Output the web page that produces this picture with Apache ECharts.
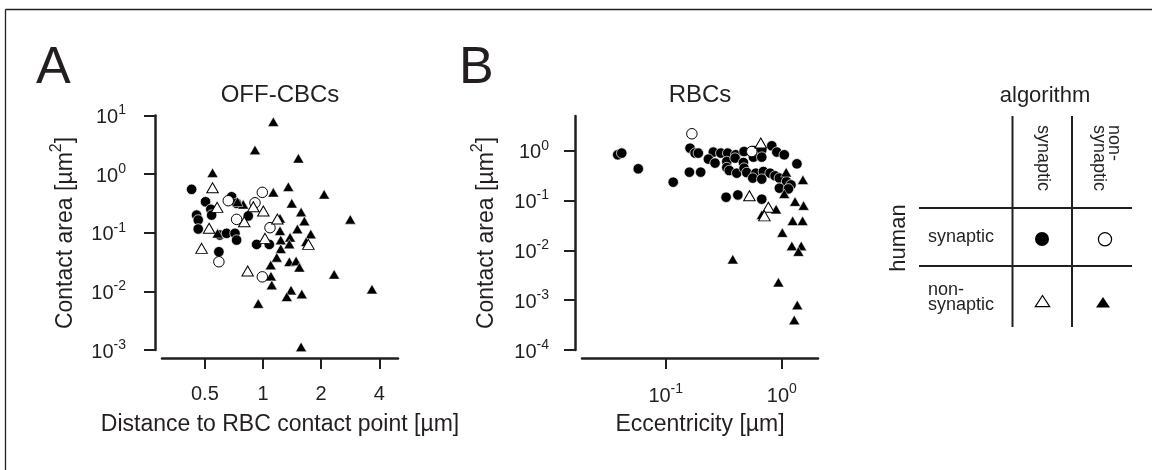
<!DOCTYPE html>
<html>
<head>
<meta charset="utf-8">
<script src="https://cdn.jsdelivr.net/npm/echarts@6/dist/echarts.min.js"></script>
<style>html,body{margin:0;padding:0;background:#fff}#c{width:1152px;height:470px}</style>
</head>
<body>
<div id="c"></div>
<script>
// ---------- Panel A: OFF-CBCs (distance [µm], contact area [µm²]) ----------
const aSynSyn = [[0.427,0.55],[0.504,0.338],[0.688,0.411],[0.73,0.318],[0.537,0.251],[0.453,0.2],[0.542,0.2],[0.462,0.165],[0.839,0.193],[0.462,0.116],[0.598,0.0914],[0.648,0.0977],[0.716,0.0977],[0.73,0.075],[0.927,0.0633],[1.078,0.0633],[0.591,0.0474]];
const aSynNon = [[0.992,0.489],[0.661,0.352],[0.909,0.325],[0.73,0.169],[1.087,0.122],[0.591,0.032],[0.992,0.0177]];
const aNonSyn = [[0.548,0.586],[0.579,0.271],[0.891,0.278],[1.004,0.235],[0.8,0.154],[1.187,0.171],[0.526,0.119],[1.024,0.0802],[1.718,0.0634],[0.481,0.0542],[0.833,0.0222]];
const aNonNon = [[1.131,7.84],[0.909,2.58],[1.525,1.86],[0.548,1.06],[1.131,0.489],[1.353,0.61],[2.073,0.452],[1.409,0.318],[0.79,0.305],[0.739,0.338],[1.225,0.176],[1.575,0.225],[1.638,0.158],[2.83,0.169],[1.225,0.108],[1.507,0.116],[1.768,0.095],[0.582,0.0977],[1.024,0.0802],[1.236,0.075],[1.381,0.0835],[1.369,0.0641],[1.672,0.0702],[1.236,0.0533],[1.178,0.038],[1.369,0.032],[1.484,0.0329],[1.096,0.0281],[1.543,0.0257],[1.1,0.0182],[1.11,0.0128],[1.397,0.0105],[1.328,0.0081],[1.588,0.009],[0.945,0.0062],[2.336,0.0195],[3.666,0.0109],[1.575,0.00113]];
// ---------- Panel B: RBCs (eccentricity [µm], contact area [µm²]) ----------
const bSynSyn = [[0.0386,0.831],[0.0418,0.899],[0.058,0.435],[0.116,0.235],[0.16,0.373],[0.2,0.373],[0.331,0.117],[0.418,0.13],[0.672,0.107],[1.35,0.548],[0.162,1.13],[0.179,0.899],[0.191,0.899],[0.257,0.942],[0.298,0.899],[0.342,0.899],[0.401,0.831],[0.473,0.968],[0.569,1.01],[0.672,1.05],[0.82,1.26],[0.906,0.942],[1.05,0.831],[0.233,0.681],[0.266,0.566],[0.336,0.61],[0.396,0.713],[0.467,0.582],[0.569,0.747],[0.672,0.747],[0.336,0.461],[0.353,0.402],[0.409,0.356],[0.473,0.449],[0.499,0.366],[0.597,0.356],[0.694,0.384],[0.793,0.356],[0.875,0.314],[0.953,0.283],[1.1,0.241],[0.562,0.283],[0.672,0.27],[1.2,0.207],[0.953,0.178],[1.14,0.172]];
const bSynNon = [[0.168,2.2],[0.551,0.968]];
const bNonSyn = [[0.659,1.43],[0.526,0.125],[0.766,0.0738],[0.708,0.0494]];
const bNonNon = [[1.09,0.373],[1.52,0.261],[1.05,0.137],[0.893,0.0673],[0.672,0.0517],[1.3,0.0957],[1.54,0.0796],[1.24,0.0392],[1.51,0.0392],[1.01,0.0228],[1.22,0.0123],[1.47,0.0123],[1.39,0.00946],[0.378,0.00665],[0.935,0.0023],[1.36,0.0008],[1.28,0.0004]];
// ---------- ticks ----------
const aXTicks = [0.5, 1, 2, 4];
const aXTickLabels = ['0.5', '1', '2', '4'];
const aYTicks = [0.001, 0.01, 0.1, 1, 10];
const bXTicks = [0.1, 1];
const bYTicks = [0.0001, 0.001, 0.01, 0.1, 1];
// ---------- texts ----------
const panelLetters = ['A', 'B'];
const panelTitles = ['OFF-CBCs', 'RBCs'];
const xTitles = ['Distance to RBC contact point [µm]', 'Eccentricity [µm]'];

const FONT = '"Liberation Sans", Arial, Helvetica, sans-serif';
const INK = '#231f20';

const rich = {
  b: {fontSize: 20, lineHeight: 24, verticalAlign: 'bottom', color: INK, fontFamily: FONT},
  s: {fontSize: 14, lineHeight: 6, verticalAlign: 'top', color: INK, fontFamily: FONT}
};
function powLabel(v) {
  const e = Math.round(Math.log10(v));
  return '{b|10}{s|' + e + '}';
}
function linLabel(v) {
  let best = 0;
  aXTicks.forEach((t, i) => { if (Math.abs(t - v) < Math.abs(aXTicks[best] - v)) best = i; });
  return '{b|' + aXTickLabels[best] + '}';
}
function axisBase(extra) {
  return Object.assign({
    type: 'log',
    axisLine: {show: true, onZero: false, lineStyle: {color: INK, width: 2.5}},
    splitLine: {show: false},
    minorTick: {show: false},
    axisPointer: {show: false}
  }, extra);
}

const symStyles = {
  filledCircle: {symbol: 'circle', symbolSize: 10.5, itemStyle: {color: '#000', borderColor: '#fff', borderWidth: 0.7, opacity: 1}},
  openCircle: {symbol: 'circle', symbolSize: 10.5, itemStyle: {color: '#fff', borderColor: '#000', borderWidth: 1, opacity: 1}},
  openTri: {symbol: 'triangle', symbolSize: [11.5, 10], itemStyle: {color: '#fff', borderColor: '#000', borderWidth: 1, opacity: 1}},
  filledTri: {symbol: 'triangle', symbolSize: [11, 9.5], itemStyle: {color: '#000', borderColor: '#fff', borderWidth: 0.5, opacity: 1}}
};
function sc(name, data, kind, idx, z) {
  return Object.assign({type: 'scatter', name: name, data: data, xAxisIndex: idx, yAxisIndex: idx, z: z,
    emphasis: {disabled: true}, silent: true}, symStyles[kind]);
}

const chart = echarts.init(document.getElementById('c'), null, {renderer: 'canvas'});

function txt(x, y, text, size, opts) {
  return Object.assign({
    type: 'text', x: x, y: y, silent: true,
    style: Object.assign({text: text, fill: INK, font: size + 'px ' + FONT, fontSize: size, fontFamily: FONT,
      align: 'center', verticalAlign: 'middle', textAlign: 'center', textVerticalAlign: 'middle'}, (opts && opts.style) || {})
  }, (opts && opts.el) || {});
}
function line(x1, y1, x2, y2, w) {
  return {type: 'line', silent: true, shape: {x1: x1, y1: y1, x2: x2, y2: y2}, style: {stroke: INK, lineWidth: w}};
}
const yTitleRich = {
  n: {fontSize: 23, lineHeight: 28, verticalAlign: 'bottom', color: INK, fontFamily: FONT},
  s: {fontSize: 16, lineHeight: 6, verticalAlign: 'top', color: INK, fontFamily: FONT}
};
function yTitle(x, y) {
  return {type: 'text', x: x, y: y, rotation: Math.PI / 2, silent: true,
    style: {text: '{n|Contact area [µm}{s|2}{n|]}', rich: yTitleRich, fill: INK, fontSize: 23, fontFamily: FONT,
      align: 'center', verticalAlign: 'middle', textAlign: 'center', textVerticalAlign: 'middle'}};
}

const graphics = [
  // frame (top and left edges)
  line(5.5, 9.5, 1152, 9.5, 1.3),
  line(5.5, 9.5, 5.5, 470, 1.3),
  // panel letters and titles
  txt(36, 69, panelLetters[0], 52, {style: {align: 'left', textAlign: 'left'}}),
  txt(459, 69, panelLetters[1], 52, {style: {align: 'left', textAlign: 'left'}}),
  txt(280, 95, panelTitles[0], 24),
  txt(700, 95, panelTitles[1], 24),
  txt(280, 425, xTitles[0], 23),
  txt(700, 425, xTitles[1], 23),
  yTitle(63, 233),
  yTitle(484, 233),
  // legend table
  txt(1045, 96, 'algorithm', 22),
  line(1012.5, 116, 1012.5, 327, 2),
  line(1072, 116, 1072, 327, 2),
  line(919, 208, 1132, 208, 2),
  line(919, 266, 1132, 266, 2),
  txt(1043, 125, 'synaptic', 18, {el: {rotation: -Math.PI / 2}, style: {align: 'left', textAlign: 'left'}}),
  txt(1106, 125, 'non-\nsynaptic', 18, {el: {rotation: -Math.PI / 2}, style: {align: 'left', textAlign: 'left', lineHeight: 15}}),
  txt(899, 238, 'human', 22, {el: {rotation: Math.PI / 2}}),
  txt(928, 237, 'synaptic', 18, {style: {align: 'left', textAlign: 'left'}}),
  txt(928, 298, 'non-\nsynaptic', 18, {style: {align: 'left', textAlign: 'left', lineHeight: 15}}),
  {type: 'circle', silent: true, shape: {cx: 1042, cy: 239, r: 7}, style: {fill: '#000'}},
  {type: 'circle', silent: true, shape: {cx: 1105, cy: 239.3, r: 6.6}, style: {fill: '#fff', stroke: '#000', lineWidth: 1.2}},
  {type: 'polygon', silent: true, shape: {points: [[1042.5, 295.5], [1035.3, 306.6], [1049.7, 306.6]]}, style: {fill: '#fff', stroke: '#000', lineWidth: 1.2}},
  {type: 'polygon', silent: true, shape: {points: [[1103, 297], [1096, 307.5], [1110, 307.5]]}, style: {fill: '#000'}}
];

const option = {
  animation: false,
  backgroundColor: '#fff',
  textStyle: {fontFamily: FONT, color: INK},
  grid: [
    {left: 162, top: 115.5, width: 236, height: 234.5, containLabel: false, outerBoundsMode: 'none', show: false},
    {left: 582, top: 116, width: 236, height: 234, containLabel: false, outerBoundsMode: 'none', show: false}
  ],
  xAxis: [
    axisBase({gridIndex: 0, logBase: 2, min: 0.3, max: 5.0, offset: 8,
      axisTick: {show: true, length: 11, lineStyle: {color: INK, width: 2}, customValues: aXTicks},
      axisLabel: {show: true, customValues: aXTicks, margin: 22, formatter: linLabel, rich: rich}}),
    axisBase({gridIndex: 1, logBase: 10, min: 0.019, max: 2.05, offset: 8,
      axisTick: {show: true, length: 11, lineStyle: {color: INK, width: 2}, customValues: bXTicks},
      axisLabel: {show: true, customValues: bXTicks, margin: 24, formatter: powLabel, rich: rich}})
  ],
  yAxis: [
    axisBase({gridIndex: 0, logBase: 10, min: 0.001, max: 10, offset: 7,
      axisTick: {show: true, length: 11, lineStyle: {color: INK, width: 2}, customValues: aYTicks},
      axisLabel: {show: true, customValues: aYTicks, margin: 29, formatter: powLabel, rich: rich}}),
    axisBase({gridIndex: 1, logBase: 10, min: 0.0001, max: 5, offset: 7,
      axisTick: {show: true, length: 11, lineStyle: {color: INK, width: 2}, customValues: bYTicks},
      axisLabel: {show: true, customValues: bYTicks, margin: 26, formatter: powLabel, rich: rich}})
  ],
  series: [
    sc('A syn/syn', aSynSyn, 'filledCircle', 0, 2),
    sc('A non/non', aNonNon, 'filledTri', 0, 3),
    sc('A syn/non', aSynNon, 'openCircle', 0, 4),
    sc('A non/syn', aNonSyn, 'openTri', 0, 5),
    sc('B syn/syn', bSynSyn, 'filledCircle', 1, 2),
    sc('B non/non', bNonNon, 'filledTri', 1, 3),
    sc('B syn/non', bSynNon, 'openCircle', 1, 4),
    sc('B non/syn', bNonSyn, 'openTri', 1, 5)
  ],
  graphic: graphics
};
chart.setOption(option);
</script>
</body>
</html>
